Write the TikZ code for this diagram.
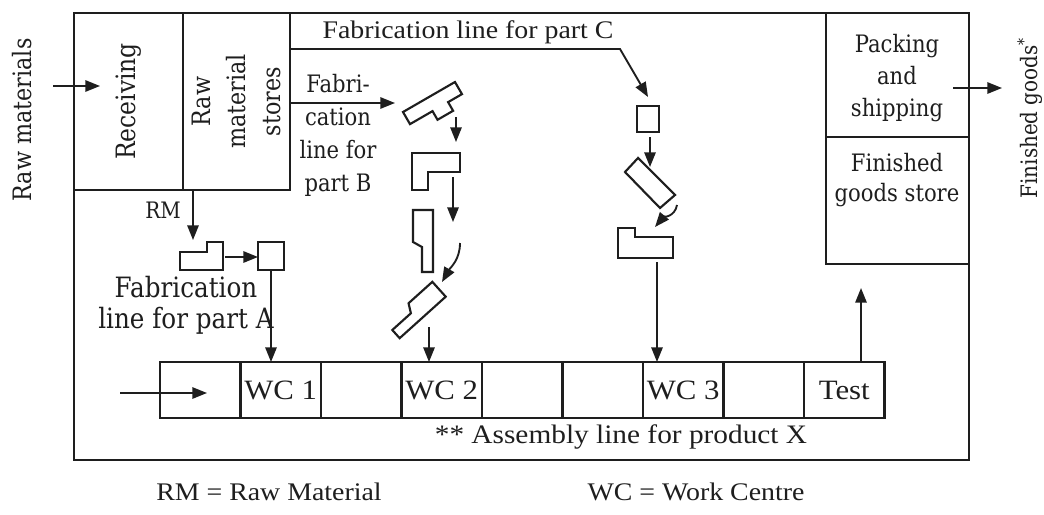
\documentclass[tikz,border=0pt]{standalone}
\usepackage{fontspec}
\setmainfont{Liberation Serif}[FakeStretch=1.1]
\newfontfamily\cent{DejaVu Serif}[FakeStretch=0.88]
\usetikzlibrary{arrows.meta,fit}
\definecolor{ink}{RGB}{30,30,30}
\begin{document}
\begin{tikzpicture}[x=0.75pt,y=-0.75pt,color=ink,line width=1.6pt,
  area/.style={draw, inner sep=0pt, outer sep=0pt},
  part/.style={draw, line width=1.6pt, line join=miter},
  arr/.style={-{Triangle[length=11pt,width=8.5pt]}, line width=1.4pt},
  tms/.style={font=\fontsize{19}{23}\selectfont, inner sep=0pt},
  cen/.style={font=\cent\fontsize{19}{25}\selectfont, inner sep=0pt, align=center}]
\useasboundingbox (0,0) rectangle (1044,514);
\fill[white] (0,0) rectangle (1044,514);

% areas
\node[area, fit={(74,13) (969,460)}] (plant) {};
\node[area, fit={(74,13) (183,190)}] (recv) {};
\node[area, fit={(183,13) (290,190)}] (stores) {};
\node[area, fit={(826,13) (969,137)}] (pack) {};
\node[area, fit={(826,137) (969,264)}] (fgs) {};
\foreach \i in {1,...,9}
  \node[area, fit={({160+80.5*(\i-1)},362) ({160+80.5*\i},418)}] (c\i) {};

% texts
\node[cen, rotate=90] (rawm) at (22,120) {Raw materials};
\node[cen, rotate=90, font=\cent\fontsize{20}{26}\selectfont] (recvt) at (recv) {Receiving};
\node[cen, rotate=90, font=\cent\fontsize{19}{26}\selectfont] (storest) at (stores) {Raw\\material\\stores};
\node[cen, font=\cent\fontsize{18}{24}\selectfont] (packt) at (897,78) {Packing\\and\\shipping};
\node[cen, font=\cent\fontsize{18}{22.5}\selectfont] (fgst) at (897,180) {Finished\\goods store};
\node[cen, rotate=90, font=\cent\fontsize{17}{22}\selectfont] (fgood) at (1030,118) {Finished goods\textsuperscript{*}};
\node[tms] (labc) at (468,32) {Fabrication line for part C};
\node[cen, font=\cent\fontsize{18}{24.75}\selectfont] (labb) at (338,135) {Fabri-\\cation\\line for\\part B};
\node[cen, font=\cent\fontsize{17}{22}\selectfont] (rm) at (163,210) {RM};
\node[cen, font=\cent\fontsize{21}{23}\selectfont] (laba) at (186,305) {Fabrication\\line for part A};
\node[tms, font=\fontsize{21}{23}\selectfont] at (c2) {WC 1};
\node[tms, font=\fontsize{21}{23}\selectfont] at (c4) {WC 2};
\node[tms, font=\fontsize{21}{23}\selectfont] at (c7) {WC 3};
\node[tms, font=\fontsize{21}{23}\selectfont] at (c9) {Test};
\node[tms, font=\fontsize{20}{23}\selectfont] (asm) at (621,437) {** Assembly line for product X};
\node[tms] (leg1) at (269,492) {RM = Raw Material};
\node[tms] (leg2) at (696,492) {WC = Work Centre};

% parts, line A
\draw[part] (180,270) -- (180,252) -- (207,252) -- (207,242) -- (223,242) -- (223,270) -- cycle;
\draw[part] (258,242) rectangle (284,270);
% parts, line B
\begin{scope}[shift={(403,112)}, rotate=30]
  \draw[part] (0,0) -- (60,0) -- (60,14) -- (44,14) -- (44,24) -- (26,24) -- (26,14) -- (0,14) -- cycle;
\end{scope}
\draw[part] (412,153) -- (460,153) -- (460,172) -- (428,172) -- (428,190) -- (412,190) -- cycle;
\draw[part] (413,210) -- (433,210) -- (433,272) -- (422,272) -- (422,247) -- (413,242) -- cycle;
\begin{scope}[shift={(416,310)}, rotate=-48]
  \draw[part] (-10,-31) -- (10,-31) -- (10,31) -- (-1,31) -- (-1,6) -- (-10,1) -- cycle;
\end{scope}
% parts, line C
\draw[part] (637,106) rectangle (659,132);
\draw[part] (638,158) -- (675,195) -- (660,208) -- (625,172) -- cycle;
\draw[part] (618,228) -- (635,228) -- (635,237) -- (673,237) -- (673,258) -- (618,258) -- cycle;

% connector end points
\coordinate (rin) at (53,86);
\coordinate (rinT) at (100,86);
\coordinate (cs) at (stores.east |- 0,49);
\coordinate (cb) at (620,49);
\coordinate (ct) at (648,97);
\coordinate (bs) at (stores.east |- 0,103);
\coordinate (bt) at (395,103);
\coordinate (rms) at (193,190);
\coordinate (rmt) at (193,240);
\coordinate (a1) at (225,257);
\coordinate (a2) at (258,257);
\coordinate (a2b) at (271,270);
\coordinate (b1s) at (456,117);
\coordinate (b1t) at (456,142);
\coordinate (b2s) at (453,177);
\coordinate (b2t) at (453,222);
\coordinate (b3s) at (460,243);
\coordinate (b3t) at (442,282);
\coordinate (b4s) at (429,327);
\coordinate (c1s) at (650,137);
\coordinate (c1t) at (650,167);
\coordinate (c2s) at (677,205);
\coordinate (c2t) at (655,227);
\coordinate (c3s) at (657,262);
\coordinate (tt) at (861,288);
\coordinate (ain) at (120,393);
\coordinate (aint) at (207,393);
\coordinate (out) at (953,88);
\coordinate (outt) at (1002,88);

% connectors
\draw[arr] (rin) -- (rinT);
\draw[arr] (cs) -- (cb) -- (ct);
\draw[arr] (bs) -- (bt);
\draw[arr] (rms) -- (rmt);
\draw[arr] (a1) -- (a2);
\draw[arr] (a2b) -- (a2b |- c2.north);
\draw[arr] (b1s) -- (b1t);
\draw[arr] (b2s) -- (b2t);
\draw[arr] (b3s) to[out=-90, in=60] (b3t);
\draw[arr] (b4s) -- (b4s |- c4.north);
\draw[arr] (c1s) -- (c1t);
\draw[arr] (c2s) to[out=-100, in=50] (c2t);
\draw[arr] (c3s) -- (c3s |- c7.north);
\draw[arr] (tt |- c9.north) -- (tt);
\draw[arr] (ain) -- (aint);
\draw[arr] (out) -- (outt);
\end{tikzpicture}
\end{document}
